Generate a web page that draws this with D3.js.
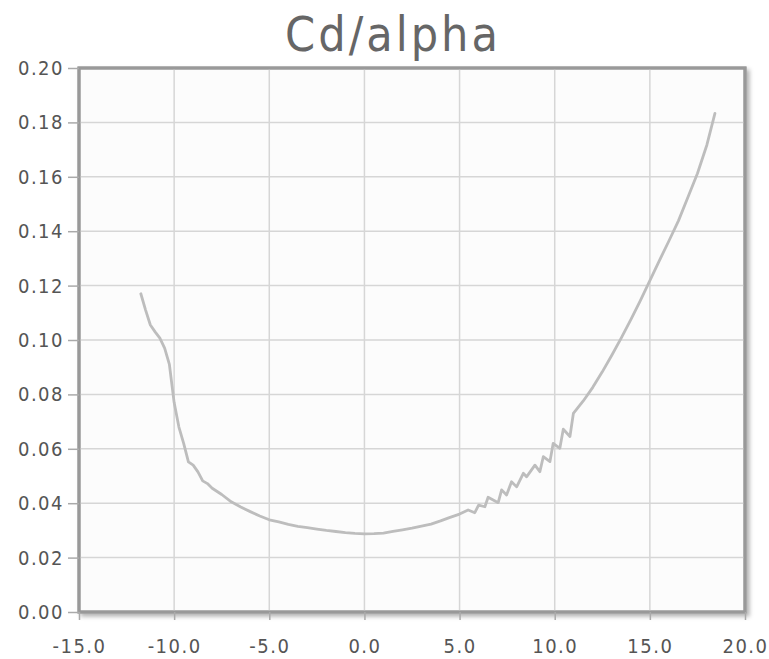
<!DOCTYPE html>
<html>
<head>
<meta charset="utf-8">
<script src="https://cdn.jsdelivr.net/npm/d3@7"></script>
<style>
  body { margin: 0; background: #fff; }
  text { font-family: "DejaVu Sans Condensed", "DejaVu Sans", sans-serif; font-stretch: condensed; }
</style>
</head>
<body>
<script>
// Cd against angle of attack
var alpha = [-11.75, -11.5, -11.25, -11.0, -10.75, -10.5, -10.25, -10.0, -9.75, -9.5, -9.25, -9.0,
  -8.75, -8.5, -8.25, -8.0, -7.5, -7.0, -6.5, -6.0, -5.5, -5.0, -4.5, -4.0, -3.5, -3.0, -2.5,
  -2.0, -1.5, -1.0, -0.5, 0.0, 0.5, 1.0, 1.5, 2.0, 2.5, 3.0, 3.5, 4.0, 4.5, 5.0, 5.45, 5.8,
  6.0, 6.33, 6.5, 7.03, 7.21, 7.47, 7.73, 8.0, 8.35, 8.52, 8.96, 9.22, 9.4, 9.75, 9.92, 10.27,
  10.45, 10.8, 10.98, 11.5, 12.0, 12.5, 13.0, 13.5, 14.0, 14.5, 15.0, 15.5, 16.0, 16.5, 17.0,
  17.5, 18.0, 18.42];
var cd = [0.117, 0.111, 0.1055, 0.103, 0.1007, 0.097, 0.091, 0.077, 0.068, 0.062, 0.0552, 0.054,
  0.0515, 0.0482, 0.0472, 0.0455, 0.0432, 0.0405, 0.0386, 0.0369, 0.0353, 0.0339, 0.0331, 0.0322,
  0.0315, 0.031, 0.0305, 0.03, 0.0296, 0.0292, 0.0289, 0.0287, 0.0288, 0.029, 0.0296, 0.0302,
  0.0308, 0.0316, 0.0323, 0.0335, 0.0348, 0.036, 0.0375, 0.0365, 0.0393, 0.0387, 0.0422, 0.0402,
  0.0449, 0.043, 0.0479, 0.046, 0.051, 0.0497, 0.054, 0.0516, 0.0571, 0.0553, 0.062, 0.0602,
  0.0672, 0.0645, 0.073, 0.0776, 0.0826, 0.0883, 0.0944, 0.1008, 0.1075, 0.1145, 0.1218, 0.1292,
  0.1364, 0.1438, 0.1525, 0.1612, 0.1718, 0.1833];
var xTicks = [-15, -10, -5, 0, 5, 10, 15, 20];
var yTicks = [0, 0.02, 0.04, 0.06, 0.08, 0.10, 0.12, 0.14, 0.16, 0.18, 0.20];
var title = "Cd/alpha";

var W = 769, H = 659;
var pl = 79, pr = 745, pt = 68, pb = 612;

var svg = d3.select("body").append("svg")
    .attr("width", W)
    .attr("height", H);

var x = d3.scaleLinear().domain([-15, 20]).range([pl, pr]);
var y = d3.scaleLinear().domain([0, 0.2]).range([pb, pt]);

// shadow filter for the frame
var defs = svg.append("defs");
var f = defs.append("filter").attr("id", "shadow")
    .attr("x", "-5%").attr("y", "-5%").attr("width", "115%").attr("height", "115%");
f.append("feDropShadow").attr("dx", 3).attr("dy", 3).attr("stdDeviation", 2)
    .attr("flood-color", "#000").attr("flood-opacity", 0.3);

// plot background
svg.append("rect")
    .attr("x", pl).attr("y", pt)
    .attr("width", pr - pl).attr("height", pb - pt)
    .attr("fill", "#fcfcfc")
    .attr("stroke", "#999")
    .attr("stroke-width", 3)
    .attr("filter", "url(#shadow)");

// grid
svg.append("g").selectAll("line").data(xTicks.slice(1, -1)).join("line")
    .attr("x1", d => x(d)).attr("x2", d => x(d))
    .attr("y1", pt).attr("y2", pb)
    .attr("stroke", "#d6d6d6").attr("stroke-width", 1.5);
svg.append("g").selectAll("line").data(yTicks.slice(1, -1)).join("line")
    .attr("x1", pl).attr("x2", pr)
    .attr("y1", d => y(d)).attr("y2", d => y(d))
    .attr("stroke", "#d6d6d6").attr("stroke-width", 1.5);

// frame again on top of the grid
svg.append("rect")
    .attr("x", pl).attr("y", pt)
    .attr("width", pr - pl).attr("height", pb - pt)
    .attr("fill", "none")
    .attr("stroke", "#999")
    .attr("stroke-width", 3);

// axes (plain hyphen for negatives, like the original)
var fx = d => d.toFixed(1);
var fy = d => d.toFixed(2);
var xAxis = svg.append("g")
    .attr("transform", "translate(0," + pb + ")")
    .call(d3.axisBottom(x).tickValues(xTicks).tickFormat(fx)
      .tickSize(8).tickPadding(19));
var yAxis = svg.append("g")
    .attr("transform", "translate(" + pl + ",0)")
    .call(d3.axisLeft(y).tickValues(yTicks).tickFormat(fy)
      .tickSize(11).tickPadding(4));

[xAxis, yAxis].forEach(function(g) {
  g.select(".domain").remove();
  g.selectAll(".tick line").attr("stroke", "#aaa").attr("stroke-width", 1.5);
  g.selectAll(".tick text").attr("fill", "#555").style("font-size", "20px")
    .style("letter-spacing", "1.5px")
    .style("font-family", "'DejaVu Sans Condensed', sans-serif");
});

// curve
var pts = alpha.map((a, i) => [a, cd[i]]);
svg.append("path")
    .datum(pts)
    .attr("fill", "none")
    .attr("stroke", "#bdbdbd")
    .attr("stroke-width", 2.8)
    .attr("stroke-linejoin", "round")
    .attr("stroke-linecap", "round")
    .attr("d", d3.line().x(d => x(d[0])).y(d => y(d[1])));

// title
svg.append("text")
    .attr("x", 393).attr("y", 51)
    .attr("text-anchor", "middle")
    .attr("fill", "#666")
    .style("font-size", "48px")
    .style("letter-spacing", "3px")
    .text(title);
</script>
</body>
</html>
